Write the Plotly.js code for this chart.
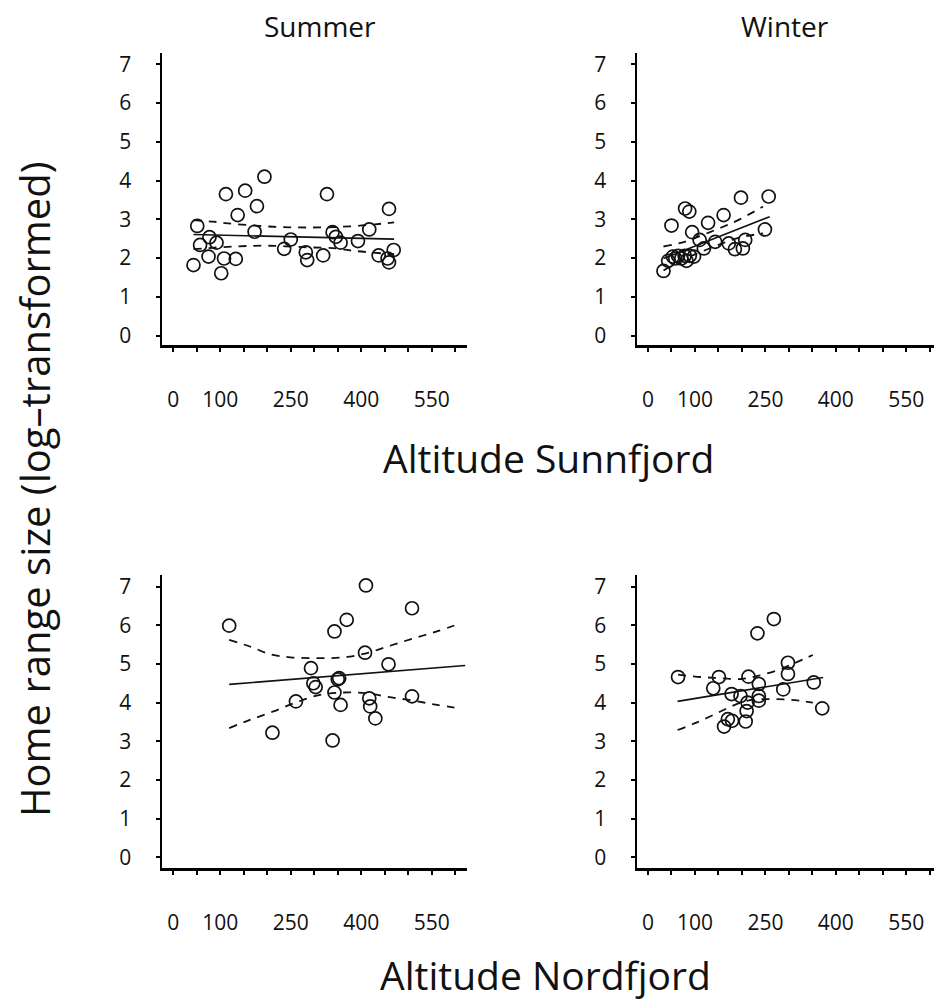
<!DOCTYPE html>
<html>
<head>
<meta charset="utf-8">
<script src="https://cdn.plot.ly/plotly-3.0.1.min.js"></script>
<style>html,body{margin:0;padding:0;background:#fff;}#chart{width:934px;height:1001px;}</style>
</head>
<body>
<div id="chart"></div>
<script>
// ---------- DATA ----------
// Sunnfjord, summer
const sunSumAlt = [43,51,57,75,77,92,102,108,112,133,137,153,173,178,194,236,250,282,285,319,327,339,346,356,393,417,437,456,459,459,469];
const sunSumHR  = [1.82,2.83,2.34,2.04,2.54,2.40,1.61,1.99,3.65,1.98,3.11,3.74,2.68,3.34,4.10,2.24,2.48,2.15,1.95,2.07,3.65,2.67,2.55,2.40,2.44,2.74,2.07,1.99,1.89,3.27,2.21];
const sunSumFitX = [43,470];
const sunSumFitY = [2.61,2.49];
const sunSumUpX = [43,85,131,213,291,376,470];
const sunSumUpY = [2.98,2.94,2.88,2.81,2.79,2.82,2.92];
const sunSumLoX = [43,128,199,284,348,383,470];
const sunSumLoY = [2.23,2.30,2.32,2.28,2.25,2.19,2.10];

// Sunnfjord, winter
const sunWinAlt = [33,50,43,53,58,64,71,78,82,89,98,79,88,94,110,119,128,143,161,172,185,198,202,207,249,257];
const sunWinHR  = [1.67,2.84,1.93,2.04,1.99,2.06,1.99,2.06,1.93,2.06,2.04,3.28,3.20,2.67,2.47,2.25,2.91,2.42,3.11,2.38,2.23,3.56,2.25,2.47,2.74,3.59];
const sunWinFitX = [33,259];
const sunWinFitY = [1.99,3.07];
const sunWinUpX = [33,78,117,156,192,245];
const sunWinUpY = [2.30,2.42,2.60,2.79,2.98,3.33];
const sunWinLoX = [33,78,117,156,192,245];
const sunWinLoY = [1.68,1.98,2.18,2.37,2.52,2.64];

// Nordfjord, summer
const norSumAlt = [119,211,261,293,298,303,339,343,343,350,353,356,369,408,410,417,419,430,458,508,508];
const norSumHR  = [5.99,3.22,4.03,4.89,4.50,4.40,3.02,4.26,5.84,4.60,4.63,3.94,6.14,5.29,7.03,4.11,3.90,3.59,4.99,6.44,4.16];
const norSumFitX = [119,621];
const norSumFitY = [4.47,4.96];
const norSumUpX = [119,163,206,249,305,362,412,461,511,561,611];
const norSumUpY = [5.62,5.45,5.25,5.17,5.15,5.17,5.28,5.47,5.66,5.84,6.05];
const norSumLoX = [119,163,213,263,312,362,412,461,511,561,611];
const norSumLoY = [3.34,3.55,3.77,4.01,4.20,4.26,4.24,4.14,4.05,3.94,3.85];

// Nordfjord, winter
const norWinAlt = [64,139,151,162,170,179,178,197,208,210,212,214,233,236,236,236,268,288,298,298,353,371];
const norWinHR  = [4.66,4.37,4.66,3.38,3.57,3.53,4.22,4.17,3.51,3.78,4.00,4.67,5.79,4.48,4.17,4.05,6.16,4.34,5.03,4.74,4.52,3.85];
const norWinFitX = [63,373];
const norWinFitY = [4.03,4.65];
const norWinUpX = [64,114,156,199,234,277,312,351];
const norWinUpY = [4.72,4.66,4.63,4.61,4.69,4.84,5.02,5.23];
const norWinLoX = [63,103,146,185,220,263,305,351];
const norWinLoY = [3.29,3.48,3.72,3.94,4.07,4.09,4.07,4.00];

// Tick labels
const xTickVals = [0,50,100,150,200,250,300,350,400,450,500,550,600];
const xTickText = ['0','','100','','','250','','','400','','','550',''];
const yTickVals = [0,1,2,3,4,5,6,7];
const yTickText = ['0','1','2','3','4','5','6','7'];

const panelTitles = ['Summer','Winter'];
const xTitles = ['Altitude Sunnfjord','Altitude Nordfjord'];
const yTitle = 'Home range size (log\u2013transformed)';

// ---------- TRACES ----------
const W = 934, H = 1001;
function panel(ax, alt, hr, fx, fy, ux, uy, lx, ly) {
  const xa = 'x' + (ax === 1 ? '' : ax), ya = 'y' + (ax === 1 ? '' : ax);
  return [
    {x: ux, y: uy, xaxis: xa, yaxis: ya, type: 'scatter', mode: 'lines',
     line: {color: '#111', width: 1.8, dash: '8px,7px', shape: 'spline'}, hoverinfo: 'skip'},
    {x: lx, y: ly, xaxis: xa, yaxis: ya, type: 'scatter', mode: 'lines',
     line: {color: '#111', width: 1.8, dash: '8px,7px', shape: 'spline'}, hoverinfo: 'skip'},
    {x: fx, y: fy, xaxis: xa, yaxis: ya, type: 'scatter', mode: 'lines',
     line: {color: '#111', width: 1.6}, hoverinfo: 'skip'},
    {x: alt, y: hr, xaxis: xa, yaxis: ya, type: 'scatter', mode: 'markers',
     marker: {symbol: 'circle-open', size: 13, color: '#111', line: {width: 1.7, color: '#111'}}}
  ];
}
const data = [].concat(
  panel(1, sunSumAlt, sunSumHR, sunSumFitX, sunSumFitY, sunSumUpX, sunSumUpY, sunSumLoX, sunSumLoY),
  panel(2, sunWinAlt, sunWinHR, sunWinFitX, sunWinFitY, sunWinUpX, sunWinUpY, sunWinLoX, sunWinLoY),
  panel(3, norSumAlt, norSumHR, norSumFitX, norSumFitY, norSumUpX, norSumUpY, norSumLoX, norSumLoY),
  panel(4, norWinAlt, norWinHR, norWinFitX, norWinFitY, norWinUpX, norWinUpY, norWinLoX, norWinLoY)
);

// ---------- LAYOUT ----------
const tickFont = {family: 'Open Sans, Noto Sans, sans-serif', size: 21, color: '#111'};
function xAx(domain, range, anchor) {
  return {domain: domain, range: range, anchor: anchor, showline: true, linecolor: '#000', linewidth: 2.5,
    showgrid: false, zeroline: false, ticks: 'outside', ticklen: 4, tickwidth: 2, tickcolor: '#000',
    tickmode: 'array', tickvals: xTickVals, ticktext: xTickText, tickfont: tickFont,
    ticklabelstandoff: 30, fixedrange: true};
}
function yAx(domain, range, anchor) {
  return {domain: domain, range: range, anchor: anchor, showline: true, linecolor: '#000', linewidth: 2.5,
    showgrid: false, zeroline: false, ticks: 'outside', ticklen: 4, tickwidth: 2, tickcolor: '#000',
    tickmode: 'array', tickvals: yTickVals, ticktext: yTickText, tickfont: tickFont,
    ticklabelstandoff: 20, fixedrange: true};
}
const xL = [162 / W, 467 / W], xR = [637 / W, 1];
const yT = [1 - 345 / H, 1 - 53 / H], yB = [1 - 868 / H, 1 - 575 / H];
const ann = (text, px, py, size, angle) => ({text: text, x: px / W, y: 1 - py / H, xref: 'paper', yref: 'paper',
  showarrow: false, xanchor: 'center', yanchor: 'middle', textangle: angle || 0,
  font: {family: 'Open Sans, Noto Sans, sans-serif', size: size, color: '#111'}});

const layout = {
  width: W, height: H, margin: {l: 0, r: 0, t: 0, b: 0},
  paper_bgcolor: '#fff', plot_bgcolor: '#fff', showlegend: false,
  xaxis: xAx(xL, [-24, 625], 'y'), yaxis: yAx(yT, [-0.24, 7.29], 'x'),
  xaxis2: xAx(xR, [-23.4, 609], 'y2'), yaxis2: yAx(yT, [-0.24, 7.29], 'x2'),
  xaxis3: xAx(xL, [-24, 625], 'y3'), yaxis3: yAx(yB, [-0.28, 7.30], 'x3'),
  xaxis4: xAx(xR, [-23.4, 609], 'y4'), yaxis4: yAx(yB, [-0.28, 7.30], 'x4'),
  annotations: [
    ann(panelTitles[0], 320, 26, 28),
    ann(panelTitles[1], 785, 26, 28),
    ann(xTitles[0], 548, 457, 39),
    ann(xTitles[1], 545, 974, 39),
    ann(yTitle, 34, 489, 40, -90)
  ]
};
Plotly.newPlot('chart', data, layout, {displayModeBar: false, staticPlot: true});
</script>
</body>
</html>
